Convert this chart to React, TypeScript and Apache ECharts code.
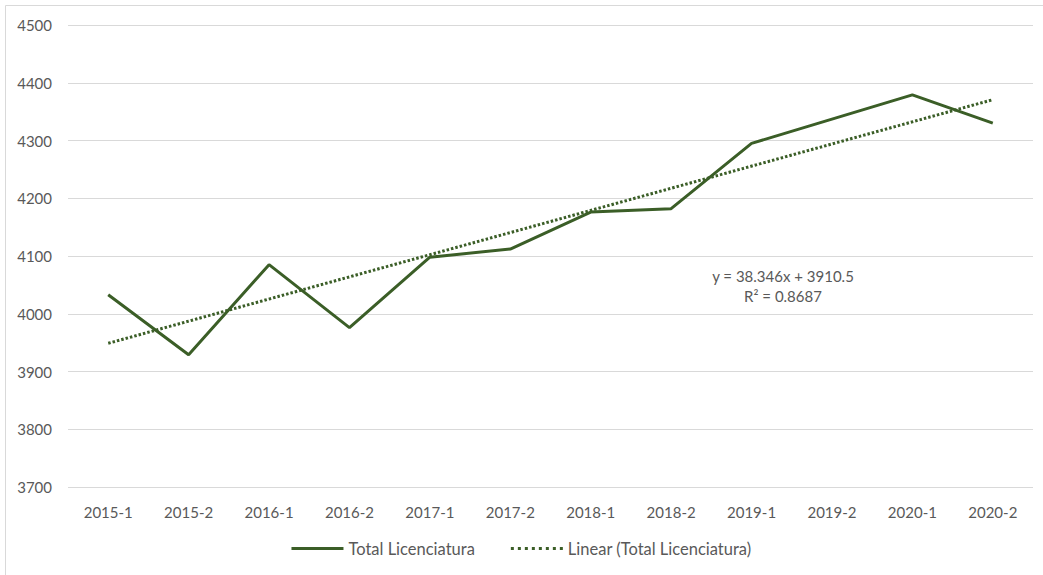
import React, { useEffect, useRef } from "react";
import * as echarts from "echarts";

const categories = ["2015-1", "2015-2", "2016-1", "2016-2", "2017-1", "2017-2", "2018-1", "2018-2", "2019-1", "2019-2", "2020-1", "2020-2"];
const totalLicenciatura = [4033, 3929, 4085, 3976, 4098, 4112, 4176, 4182, 4295, 4337, 4379, 4330];
// linear trendline endpoints (y = 38.346x + 3910.5 at x = 1 and x = 12)
const trendline = [3948.8, null, null, null, null, null, null, null, null, null, null, 4370.7];
const equationText = "y = 38.346x + 3910.5";
const r2Text = "R² = 0.8687";

const GREEN = "#3b5e27";
const FONT = "Lato, 'Open Sans', sans-serif";

const dottedIcon =
  "path://" +
  [0, 7, 14, 21, 28, 35, 42, 49].map((x) => `M${x},0h3v3h-3z`).join(" ");

export default function App() {
  const ref = useRef<HTMLDivElement>(null);
  useEffect(() => {
    if (!ref.current) return;
    const chart = echarts.init(ref.current, null, { renderer: "svg" });
    chart.setOption({
      animation: false,
      textStyle: { fontFamily: FONT },
      grid: { left: 68, right: 10, top: 25, bottom: 88 },
      xAxis: {
        type: "category",
        data: categories,
        boundaryGap: true,
        axisLine: { show: false },
        axisTick: { show: false },
        axisLabel: { color: "#595959", fontSize: 15, margin: 17, fontFamily: FONT },
      },
      yAxis: {
        type: "value",
        min: 3700,
        max: 4500,
        interval: 100,
        axisLine: { show: false },
        axisTick: { show: false },
        axisLabel: { color: "#595959", fontSize: 15, margin: 16, fontFamily: FONT, formatter: (v: number) => String(v) },
        splitLine: { lineStyle: { color: "#d9d9d9", width: 1 } },
      },
      legend: {
        bottom: 13,
        left: "center",
        itemWidth: 52,
        itemHeight: 10,
        itemGap: 36,
        textStyle: { color: "#595959", fontSize: 16.5, fontFamily: FONT },
        data: [
          { name: "Total Licenciatura", icon: "path://M0,0 L52,0 L52,3 L0,3 Z", itemStyle: { color: GREEN } },
          { name: "Linear (Total Licenciatura)", icon: dottedIcon, itemStyle: { color: GREEN } },
        ],
      },
      series: [
        {
          name: "Total Licenciatura",
          type: "line",
          data: totalLicenciatura,
          symbol: "none",
          lineStyle: { color: GREEN, width: 3 },
          itemStyle: { color: GREEN },
        },
        {
          name: "Linear (Total Licenciatura)",
          type: "line",
          data: trendline,
          connectNulls: true,
          symbol: "none",
          lineStyle: { color: GREEN, width: 3, type: [2.5, 2] },
          itemStyle: { color: GREEN },
        },
      ],
      graphic: [
        {
          type: "rect",
          shape: { x: 5.5, y: 5.5, width: 1060, height: 600 },
          style: { fill: "none", stroke: "#d9d9d9", lineWidth: 1 },
          silent: true,
        },
        {
          type: "text",
          x: 783,
          y: 266,
          style: { text: equationText + "\n" + r2Text, textAlign: "center", fill: "#595959", font: `15px ${FONT}`, lineHeight: 20 },
        },
      ],
    });
    return () => chart.dispose();
  }, []);
  return <div ref={ref} style={{ position: "fixed", left: 0, top: 0, width: 1043, height: 575, background: "#fff" }} />;
}
